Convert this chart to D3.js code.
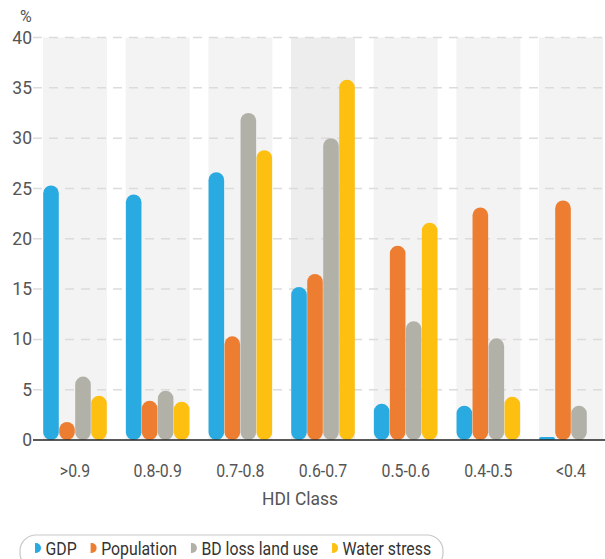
<!DOCTYPE html>
<html>
<head>
<meta charset="utf-8">
<script src="https://cdn.jsdelivr.net/npm/d3@7"></script>
<style>
  html, body { margin: 0; padding: 0; background: #fff; }
  svg { display: block; font-family: Roboto, "Noto Sans", sans-serif; }
</style>
</head>
<body>
<svg id="chart" width="605" height="559"></svg>
<script>
const categories = [">0.9", "0.8-0.9", "0.7-0.8", "0.6-0.7", "0.5-0.6", "0.4-0.5", "<0.4"];
const seriesNames = ["GDP", "Population", "BD loss land use", "Water stress"];
const gdp        = [25.3, 24.4, 26.6, 15.2, 3.6, 3.4, 0.3];
const population = [1.8, 3.9, 10.3, 16.5, 19.3, 23.1, 23.8];
const bdLoss     = [6.3, 4.9, 32.5, 30.0, 11.8, 10.1, 3.4];
const water      = [4.4, 3.8, 28.8, 35.8, 21.6, 4.3, 0];
const yTicks = [0, 5, 10, 15, 20, 25, 30, 35, 40];
const colors = ["#29ABE2", "#ED7D31", "#B2B1A8", "#FDC011"];
const highlighted = "0.6-0.7";

const seriesValues = [gdp, population, bdLoss, water];
const svg = d3.select("#chart");
const condense = 0.88;

const x0 = d3.scaleBand().domain(categories).range([43, 603]).paddingInner(0.226).paddingOuter(0);
const x1 = d3.scaleBand().domain(seriesNames).range([0, x0.bandwidth()]).padding(0);
const y = d3.scaleLinear().domain([0, 40]).range([440, 37.5]);
const color = d3.scaleOrdinal().domain(seriesNames).range(colors);

// background bands
svg.append("g").selectAll("rect").data(categories).join("rect")
  .attr("x", d => x0(d)).attr("y", y(40))
  .attr("width", x0.bandwidth()).attr("height", y(0) - y(40))
  .attr("fill", d => d === highlighted ? "#EDEDED" : "#F3F3F3");

// gridlines
svg.append("g").selectAll("line").data(yTicks.filter(t => t > 0)).join("line")
  .attr("x1", 33).attr("x2", 605)
  .attr("y1", d => y(d)).attr("y2", d => y(d))
  .attr("stroke", "#DCDCDC").attr("stroke-width", 1.5)
  .attr("stroke-dasharray", "9,7");

// y axis labels
const yAxis = d3.axisLeft(y).tickValues(yTicks).tickSize(0).tickPadding(0);
const yg = svg.append("g").attr("transform", "translate(32,0)").call(yAxis);
yg.select(".domain").remove();
yg.selectAll("text").attr("font-size", 17.5).attr("fill", "#555").attr("font-family", "Roboto");

svg.append("text").attr("x", 20).attr("y", 21.5).text("%")
  .attr("font-size", 16).attr("fill", "#555");

// bars
const data = categories.map((c, i) => ({ cat: c, vals: seriesNames.map((s, j) => ({ s, v: seriesValues[j][i] })) }));
const groups = svg.append("g").selectAll("g").data(data).join("g")
  .attr("transform", d => `translate(${x0(d.cat)},0)`);
groups.selectAll("rect").data(d => d.vals.filter(e => e.v > 0)).join("rect")
  .attr("x", d => x1(d.s) + 0.2)
  .attr("width", x1.bandwidth() - 0.4)
  .attr("y", d => y(d.v))
  .attr("height", d => y(0) - y(d.v))
  .attr("rx", d => Math.min((x1.bandwidth() - 0.4) / 2, (y(0) - y(d.v)) / 2))
  .attr("fill", d => color(d.s));

// baseline
svg.append("line").attr("x1", 33).attr("x2", 605).attr("y1", 440).attr("y2", 440)
  .attr("stroke", "#222").attr("stroke-width", 1.5);

// x axis labels
const xAxis = d3.axisBottom(x0).tickSize(0).tickPadding(0);
const xg = svg.append("g").attr("transform", "translate(0,477)").call(xAxis);
xg.select(".domain").remove();
xg.selectAll("text").attr("font-size", 18).attr("fill", "#555").attr("font-family", "Roboto")
  .attr("y", 0).attr("dy", 0).attr("transform", `scale(${condense},1)`);

svg.append("g").attr("transform", `translate(300,505) scale(0.92,1)`)
  .append("text").attr("text-anchor", "middle")
  .attr("font-size", 19).attr("fill", "#555").text("HDI Class");

// legend
const leg = svg.append("g");
leg.append("rect").attr("x", 20).attr("y", 535).attr("width", 423).attr("height", 34)
  .attr("rx", 16).attr("fill", "#fff").attr("stroke", "#C8C8C8").attr("stroke-width", 1.2);
let lx = 35;
seriesNames.forEach((s, i) => {
  const mh = 10, mw = 6;
  leg.append("path")
    .attr("d", `M${lx},543 L${lx + 1},543 A${mw - 1},${mh / 2} 0 0 1 ${lx + 1},553 L${lx},553 Z`)
    .attr("fill", colors[i]);
  const t = leg.append("g").attr("transform", `translate(${lx + 10.5},555) scale(${condense},1)`)
    .append("text").attr("font-size", 18).attr("fill", "#333").text(s);
  const w = t.node().getComputedTextLength() * condense;
  lx = lx + 10.5 + w + 14;
});
</script>
</body>
</html>
